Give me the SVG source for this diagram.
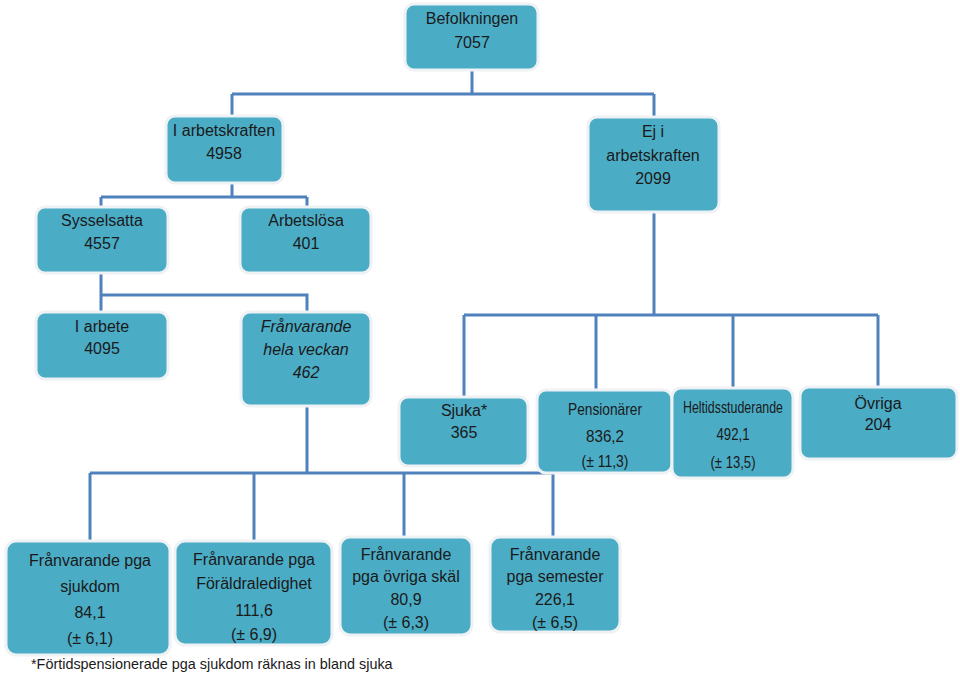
<svg xmlns="http://www.w3.org/2000/svg" width="960" height="674" viewBox="0 0 960 674">
<style>
.box{fill:#4bacc6;stroke:#eef2f4;stroke-width:3}
.t{font-family:"Liberation Sans","Open Sans",sans-serif;font-size:16px;fill:#1a1a1a;text-anchor:middle}
.n{font-family:"Liberation Sans","Open Sans",sans-serif;font-size:16.5px;fill:#1a1a1a;text-anchor:middle}
.i{font-style:italic}
.c{fill:none;stroke:#4f81bd;stroke-width:3}
.f{font-family:"Liberation Sans","Open Sans",sans-serif;font-size:14.4px;fill:#1a1a1a}
</style>
<rect width="960" height="674" fill="#ffffff"/>
<g id="connectors" class="c">
<path d="M472 70V94M232 94H654M232 94V117M654 94V117"/>
<path d="M232 183V197M101 197H307M101 197V208M307 197V208"/>
<path d="M101 273V295H307V312M101 295V312"/>
<path d="M654 212V315M464 315H878M464 315V398M596 315V390M733 315V388M878 315V388"/>
<path d="M307 406V473M90 473H553M90 473V541M254 473V541M404 473V537M553 473V537"/>
</g>
<g id="befolkningen"><rect class="box" x="405" y="4" width="133" height="66" rx="9"/>
<text class="t" x="472" y="24">Befolkningen</text><text class="t" x="472" y="48">7057</text></g>
<g id="iarbetskraften"><rect class="box" x="166" y="116" width="117" height="67" rx="9"/>
<text class="t" x="224" y="136">I arbetskraften</text><text class="t" x="224" y="159">4958</text></g>
<g id="ejiarbetskraften"><rect class="box" x="588" y="117" width="131" height="95" rx="9"/>
<text class="t" x="653" y="137">Ej i</text><text class="t" x="653" y="161">arbetskraften</text><text class="t" x="653" y="184">2099</text></g>
<g id="sysselsatta"><rect class="box" x="36" y="207" width="132" height="66" rx="9"/>
<text class="t" x="102" y="226">Sysselsatta</text><text class="t" x="102" y="249">4557</text></g>
<g id="arbetslosa"><rect class="box" x="240" y="207" width="131" height="66" rx="9"/>
<text class="t" x="306" y="226">Arbetslösa</text><text class="t" x="306" y="249">401</text></g>
<g id="iarbete"><rect class="box" x="36" y="312" width="132" height="67" rx="9"/>
<text class="t" x="102" y="332">I arbete</text><text class="t" x="102" y="354">4095</text></g>
<g id="franvarande"><rect class="box" x="241" y="312" width="130" height="94" rx="9"/>
<text class="t i" x="306" y="332">Frånvarande</text><text class="t i" x="306" y="355">hela veckan</text><text class="t i" x="306" y="378">462</text></g>
<g id="sjuka"><rect class="box" x="399" y="397" width="129" height="69" rx="9"/>
<text class="t" x="464" y="416">Sjuka*</text><text class="t" x="464" y="438">365</text></g>
<g id="pensionarer"><rect class="box" x="537" y="390" width="135" height="83" rx="9"/>
<text class="n" x="605" y="415" textLength="74" lengthAdjust="spacingAndGlyphs">Pensionärer</text><text class="n" x="605" y="442" textLength="38" lengthAdjust="spacingAndGlyphs">836,2</text><text class="n" x="605" y="467" textLength="47" lengthAdjust="spacingAndGlyphs">(± 11,3)</text></g>
<g id="heltidsstuderande"><rect class="box" x="672" y="388" width="121" height="90" rx="9"/>
<text class="n" x="733" y="413" textLength="100" lengthAdjust="spacingAndGlyphs">Heltidsstuderande</text><text class="n" x="733" y="440" textLength="33" lengthAdjust="spacingAndGlyphs">492,1</text><text class="n" x="733" y="468" textLength="45" lengthAdjust="spacingAndGlyphs">(± 13,5)</text></g>
<g id="ovriga"><rect class="box" x="800" y="387" width="157" height="72" rx="9"/>
<text class="t" x="878" y="409">Övriga</text><text class="t" x="878" y="430">204</text></g>
<g id="sjukdom"><rect class="box" x="6" y="541" width="164" height="114" rx="10"/>
<text class="t" x="90" y="566">Frånvarande pga</text><text class="t" x="90" y="592">sjukdom</text><text class="t" x="90" y="618">84,1</text><text class="t" x="90" y="644">(± 6,1)</text></g>
<g id="foraldraledighet"><rect class="box" x="175" y="541" width="157" height="104" rx="10"/>
<text class="t" x="254" y="565">Frånvarande pga</text><text class="t" x="254" y="589">Föräldraledighet</text><text class="t" x="254" y="616">111,6</text><text class="t" x="254" y="640">(± 6,9)</text></g>
<g id="ovrigaskal"><rect class="box" x="340" y="537" width="132" height="98" rx="10"/>
<text class="t" x="406" y="560">Frånvarande</text><text class="t" x="406" y="582">pga övriga skäl</text><text class="t" x="406" y="605">80,9</text><text class="t" x="406" y="628">(± 6,3)</text></g>
<g id="semester"><rect class="box" x="490" y="537" width="130" height="95" rx="10"/>
<text class="t" x="555" y="560">Frånvarande</text><text class="t" x="555" y="582">pga semester</text><text class="t" x="555" y="605">226,1</text><text class="t" x="555" y="628">(± 6,5)</text></g>
<text class="f" x="31" y="669">*Förtidspensionerade pga sjukdom räknas in bland sjuka</text>
</svg>
